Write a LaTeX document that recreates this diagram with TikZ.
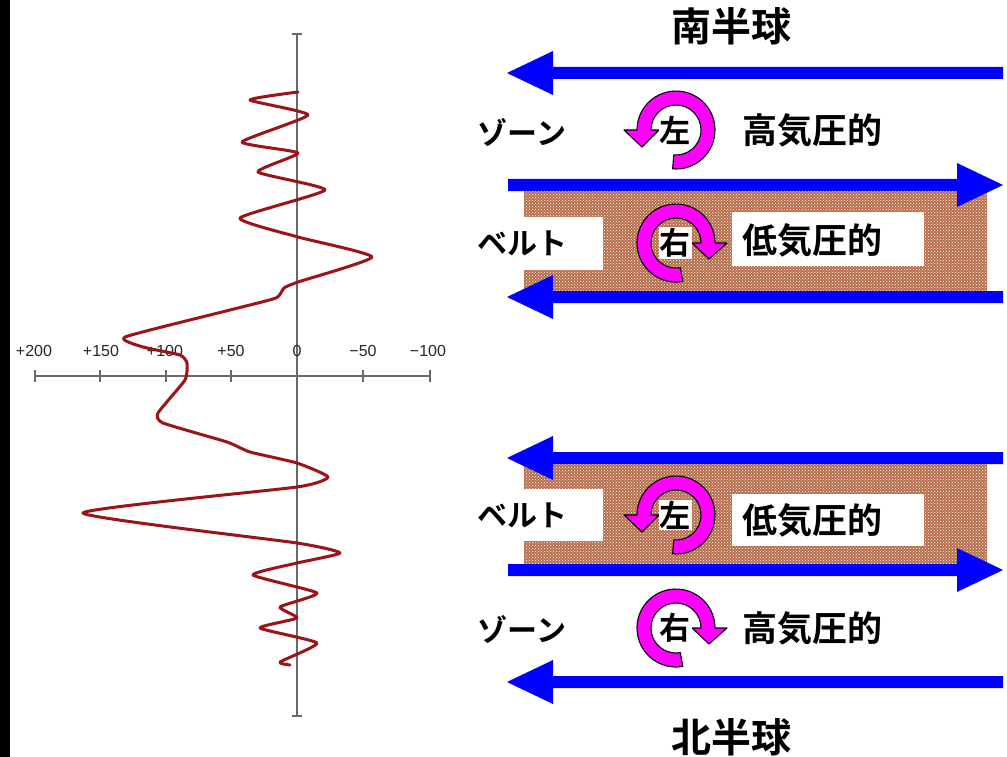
\documentclass[tikz,border=0pt]{standalone}
\usepackage{fontspec}
\newfontfamily\jp{Noto Sans CJK JP}[BoldFont={Noto Sans CJK JP Bold}]
\newfontfamily\axf{Liberation Sans}
\usetikzlibrary{patterns}
\definecolor{curvec}{RGB}{155,20,25}
\definecolor{beltc}{RGB}{185,110,75}
\definecolor{axisc}{RGB}{105,105,105}
\definecolor{arrc}{RGB}{0,0,255}
\definecolor{rotc}{RGB}{255,0,255}
\tikzset{
  kana/.style={font=\jp\bfseries\fontsize{30}{30}\selectfont, inner sep=0pt},
  kanji/.style={font=\jp\bfseries\fontsize{35}{35}\selectfont, inner sep=0pt},
  hemi/.style={font=\jp\bfseries\fontsize{40}{40}\selectfont, inner sep=0pt},
  rotchar/.style={font=\jp\bfseries\fontsize{31}{31}\selectfont, fill=white, inner sep=1pt},
  ticklbl/.style={font=\axf\fontsize{16}{16}\selectfont, text=black!85, inner sep=0pt},
  axisline/.style={draw=axisc, line width=2pt},
  bluearrow/.style={fill=arrc},
  rotring/.style={fill=rotc, draw=black, line width=1.1pt, line join=round},
  belt/.style={fill=beltc},
  beltdots/.style={pattern=crosshatch dots, pattern color=white},
}
\begin{document}
\begin{tikzpicture}[x=1pt,y=-1pt]
\useasboundingbox (0,0) rectangle (1007,757);
\fill[white] (0,0) rectangle (1007,757);
\fill[black] (0,0) rectangle (10,757);

% ---------- graph ----------
\draw[axisline] (297,34) -- (297,716);
\draw[axisline] (292,34) -- (302,34);
\draw[axisline] (292,716) -- (302,716);
\draw[axisline] (35,376) -- (430,376);
\foreach \xx in {35,100,166,231,297,363,430} {
  \draw[axisline, line width=1.6pt] (\xx,370) -- (\xx,382);
}
\node[ticklbl] (t1) at (34,351) {+200};
\node[ticklbl] (t2) at (101,351) {+150};
\node[ticklbl] (t3) at (165,351) {+100};
\node[ticklbl] (t4) at (231,351) {+50};
\node[ticklbl] (t5) at (297,351) {0};
\node[ticklbl] (t6) at (363,351) {−50};
\node[ticklbl] (t7) at (428,351) {−100};

\draw[curvec, line width=3pt, line join=round, line cap=round]
  plot[smooth, tension=0.3] coordinates {
  (298,92) (250,100) (308,115) (242,142) (298,153) (258,172) (325,190)
  (240,218) (298,237) (372,257) (298,282) (284,288) (276,298) (230,310)
  (125,337) (143,347) (180,355) (187,363) (185,380) (158,413) (163,423)
  (227,442) (250,452) (297,463) (328,477) (297,487) (83,513) (297,543)
  (340,553) (297,563) (253,575) (317,593) (280,607) (297,618) (260,628)
  (317,643) (280,662) (290,665)};

% ---------- belts ----------
\fill[belt] (524,191) rectangle (987,292);
\fill[beltdots] (524,191) rectangle (987,292);
\fill[white] (524,217) rectangle (603,270);
\fill[white] (732,212) rectangle (924,266);

\fill[belt] (524,464) rectangle (987,564);
\fill[beltdots] (524,464) rectangle (987,564);
\fill[white] (524,489) rectangle (603,541);
\fill[white] (732,494) rectangle (924,546);

% ---------- blue arrows ----------
\foreach \c in {73,297,458,682} {
  \fill[bluearrow] (507,\c) -- (553,\c-22) -- (553,\c-6) -- (1003,\c-6)
    -- (1003,\c+6) -- (553,\c+6) -- (553,\c+22) -- cycle;
}
\foreach \c in {185,570} {
  \fill[bluearrow] (1003,\c) -- (957,\c-22) -- (957,\c-6) -- (508,\c-6)
    -- (508,\c+6) -- (957,\c+6) -- (957,\c+22) -- cycle;
}

% ---------- rotation icons ----------
% counter-clockwise (left)
\foreach \cy in {130,515} {
  \begin{scope}[shift={(676,\cy)}]
    \filldraw[rotring] (95:39) arc[start angle=95, end angle=-180, radius=39]
      -- (-52,0) -- (-34,17) -- (-17,0) -- (-25,0)
      arc[start angle=-180, end angle=95, radius=25] -- cycle;
  \end{scope}
}
% clockwise (right)
\foreach \cy in {243,628} {
  \begin{scope}[shift={(676,\cy)}]
    \filldraw[rotring] (80:39) arc[start angle=80, end angle=360, radius=39]
      -- (51,0) -- (33,16) -- (16,0) -- (25,0)
      arc[start angle=360, end angle=80, radius=25] -- cycle;
  \end{scope}
}
\node[rotchar] (ca) at (675,130) {左};
\node[rotchar] (cb) at (675,243) {右};
\node[rotchar] (cc) at (675,515) {左};
\node[rotchar] (cd) at (675,628) {右};

% ---------- labels ----------
\node[hemi] (south) at (731,26) {南半球};
\node[hemi] (north) at (731,737) {北半球};

\node[kana] (zone1) at (522,133) {ゾーン};
\node[kana] (belt1) at (522,243) {ベルト};
\node[kana] (belt2) at (522,515) {ベルト};
\node[kana] (zone2) at (522,630) {ゾーン};

\node[kanji] (hp1) at (812,130) {高気圧的};
\node[kanji] (lp1) at (812,240) {低気圧的};
\node[kanji] (lp2) at (812,520) {低気圧的};
\node[kanji] (hp2) at (812,628) {高気圧的};
\end{tikzpicture}
\end{document}
